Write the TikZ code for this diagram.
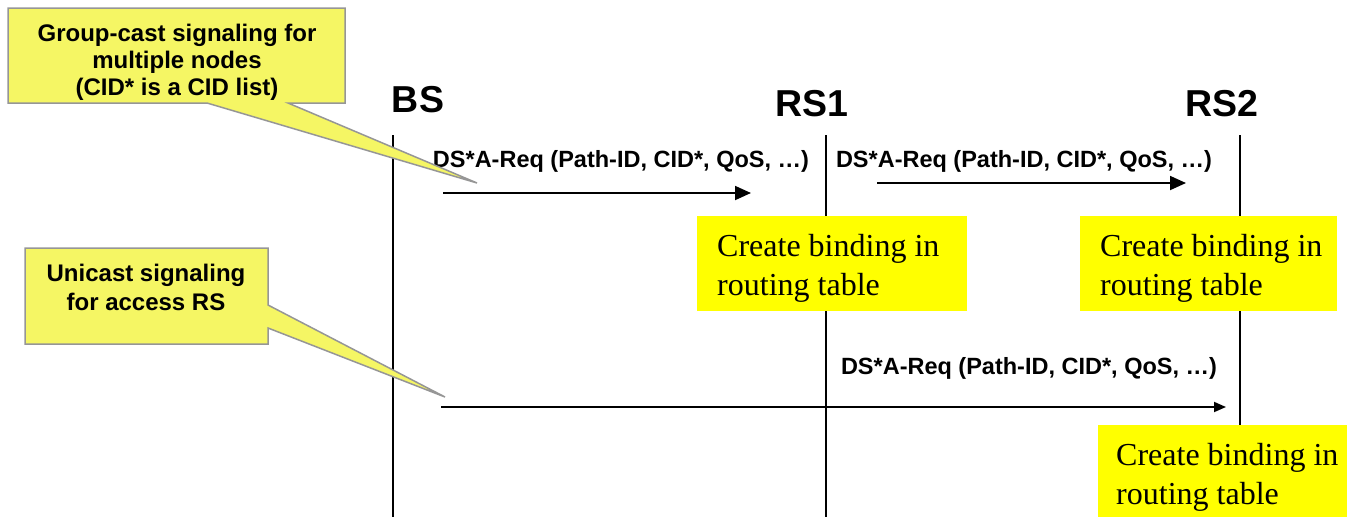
\documentclass[tikz,border=0pt]{standalone}
\usepackage{fontspec}
\setmainfont{Liberation Serif}
\setsansfont{Liberation Sans}
\usetikzlibrary{arrows.meta}
\definecolor{callout}{RGB}{245,246,100}
\definecolor{calloutborder}{RGB}{150,150,150}
\definecolor{note}{RGB}{255,255,0}
\tikzset{
  lifeline/.style={line width=2.2pt,black},
  msg/.style={line width=1.8pt,-{Triangle[length=16pt,width=14pt]}},
  msglabel/.style={font=\sffamily\bfseries\fontsize{23.5}{27}\selectfont,inner sep=0pt},
  actor/.style={font=\sffamily\bfseries\fontsize{37.5}{42}\selectfont,inner sep=0pt},
  calloutshape/.style={fill=callout,draw=calloutborder,line width=1.5pt,line join=miter},
  callouttext/.style={font=\sffamily\bfseries\fontsize{24}{27}\selectfont,align=center,inner sep=0pt},
  notebox/.style={fill=note,draw=none},
  notetext/.style={font=\rmfamily\fontsize{32}{39}\selectfont,align=left,inner sep=0pt,anchor=north west}
}
\begin{document}
\begin{tikzpicture}[x=1pt,y=-1pt]
\useasboundingbox (0,0) rectangle (1347,517);
% actors
\node[actor] (bs) at (418,100) {BS};
\node[actor] (rs1) at (812,104) {RS1};
\node[actor] (rs2) at (1222,104) {RS2};
% lifelines
\coordinate (bsT) at (393,135); \coordinate (bsB) at (393,517);
\coordinate (rs1T) at (826,135); \coordinate (rs1B) at (826,517);
\coordinate (rs2T) at (1240,135); \coordinate (rs2B) at (1240,425);
\draw[lifeline] (bsT) -- (bsB);
\draw[lifeline] (rs1T) -- (rs1B);
\draw[lifeline] (rs2T) -- (rs2B);
% note boxes
\fill[notebox] (697,216) rectangle (967,311);
\node[notetext] (n1) at (717,234) {Create binding in\\routing table};
\fill[notebox] (1080,216) rectangle (1337,311);
\node[notetext] (n2) at (1100,234) {Create binding in\\routing table};
\fill[notebox] (1098,425) rectangle (1347,517);
\node[notetext] (n3) at (1116,443) {Create binding in\\routing table};
% messages
\coordinate (m1s) at (443,193); \coordinate (m1e) at (751,193);
\draw[msg] (m1s) -- (m1e);
\node[msglabel] (l1) at (621,161) {DS*A-Req (Path-ID, CID*, QoS, …)};
\coordinate (m2s) at (877,183); \coordinate (m2e) at (1186,183);
\draw[msg] (m2s) -- (m2e);
\node[msglabel] (l2) at (1024,161) {DS*A-Req (Path-ID, CID*, QoS, …)};
\coordinate (m3s) at (441,407); \coordinate (m3e) at (1226,407);
\draw[line width=1.8pt,-{Triangle[length=12pt,width=10pt]}] (m3s) -- (m3e);
\node[msglabel] (l3) at (1029,368) {DS*A-Req (Path-ID, CID*, QoS, …)};
% callouts
\draw[calloutshape] (8,8) -- (345,8) -- (345,103) -- (288,103) -- (477,183) -- (207,103) -- (8,103) -- cycle;
\node[callouttext] (c1) at (177,62) {Group-cast signaling for\\multiple nodes\\(CID* is a CID list)};
\draw[calloutshape] (25,248) -- (268,248) -- (268,305) -- (445,397) -- (268,328) -- (268,344) -- (25,344) -- cycle;
\node[callouttext,font=\sffamily\bfseries\fontsize{24}{29}\selectfont] (c2) at (146,287) {Unicast signaling\\for access RS};
\end{tikzpicture}
\end{document}
